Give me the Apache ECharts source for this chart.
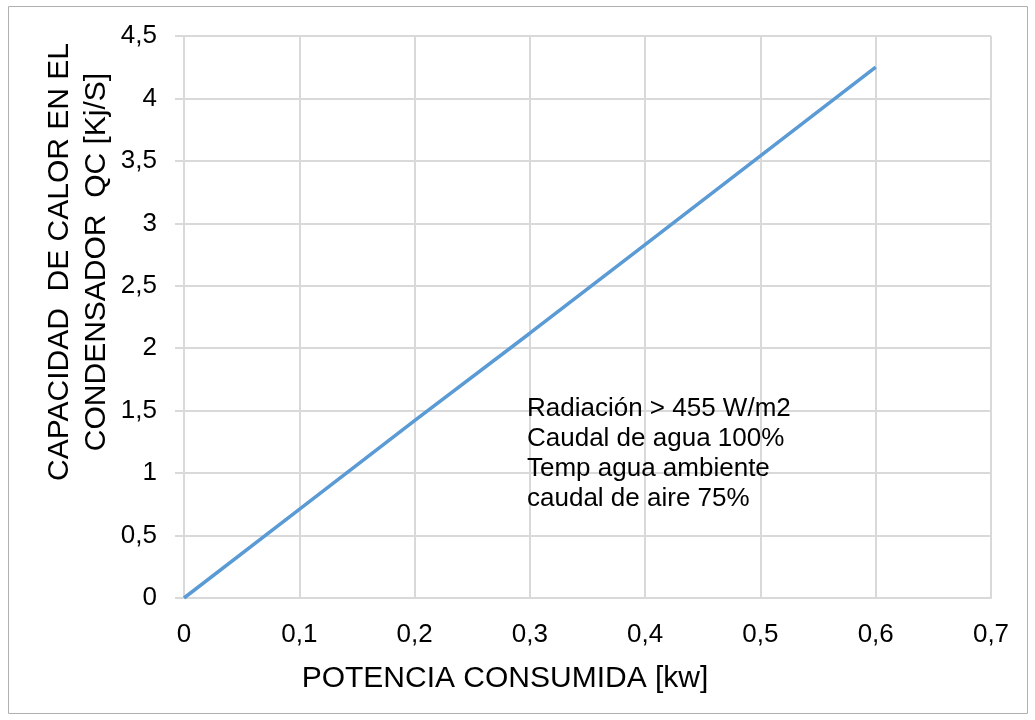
<!DOCTYPE html>
<html>
<head>
<meta charset="utf-8">
<script src="https://cdn.jsdelivr.net/npm/echarts@6/dist/echarts.min.js"></script>
<style>
  html, body { margin: 0; padding: 0; background: #ffffff; }
  #chart { width: 1035px; height: 720px; }
</style>
</head>
<body>
<div id="chart"></div>
<script>
// Potencia consumida [kw] vs. capacidad de calor en el condensador [Kj/S]
const potencia = [0, 0.1, 0.2, 0.3, 0.4, 0.5, 0.6];
const capacidad = [0, 0.71, 1.42, 2.12, 2.83, 3.54, 4.25];

const xTitle = 'POTENCIA CONSUMIDA [kw]';
const yTitleLines = ['CAPACIDAD  DE CALOR EN EL', 'CONDENSADOR  QC [Kj/S]'];
const notes = ['Radiación > 455 W/m2', 'Caudal de agua 100%', 'Temp agua ambiente', 'caudal de aire 75%'];

const font = 'Liberation Sans, Arial, sans-serif';
const comma = v => String(Math.round(v * 10) / 10).replace('.', ',');

const chart = echarts.init(document.getElementById('chart'), null, { renderer: 'canvas' });

chart.setOption({
  backgroundColor: '#ffffff',
  animation: false,
  grid: { left: 184, right: 44, top: 36, bottom: 122, containLabel: false },
  xAxis: {
    type: 'value',
    min: 0, max: 0.7, interval: 0.1,
    axisLine: { show: true, lineStyle: { color: '#d9d9d9', width: 2 } },
    axisTick: { show: false },
    splitLine: { show: true, lineStyle: { color: '#d9d9d9', width: 2 } },
    axisLabel: { color: '#000', fontSize: 26, fontFamily: font, margin: 24, formatter: comma }
  },
  yAxis: {
    type: 'value',
    min: 0, max: 4.5, interval: 0.5,
    axisLine: { show: true, lineStyle: { color: '#d9d9d9', width: 2 } },
    axisTick: { show: true, length: 9, lineStyle: { color: '#d9d9d9', width: 2 } },
    splitLine: { show: true, lineStyle: { color: '#d9d9d9', width: 2 } },
    axisLabel: { color: '#000', fontSize: 26, fontFamily: font, margin: 27, formatter: comma }
  },
  series: [{
    type: 'line',
    data: potencia.map((x, i) => [x, capacidad[i]]),
    showSymbol: false,
    lineStyle: { color: '#5b9bd5', width: 3.5 },
    z: 5
  }],
  graphic: [
    {
      type: 'rect',
      shape: { x: 8.5, y: 6.5, width: 1019, height: 707 },
      style: { fill: 'none', stroke: '#b0b0b0', lineWidth: 1 },
      silent: true
    },
    {
      type: 'text',
      x: 505, y: 679,
      style: { text: xTitle, fill: '#000', font: '30px ' + font, textAlign: 'center', textVerticalAlign: 'middle' }
    },
    {
      type: 'text',
      x: 60, y: 262, rotation: Math.PI / 2,
      style: { text: yTitleLines[0], fill: '#000', font: '30px ' + font, textAlign: 'center', textVerticalAlign: 'middle' }
    },
    {
      type: 'text',
      x: 97, y: 262, rotation: Math.PI / 2,
      style: { text: yTitleLines[1], fill: '#000', font: '30px ' + font, textAlign: 'center', textVerticalAlign: 'middle' }
    },
    {
      type: 'text',
      x: 527, y: 394, z: 10,
      style: { text: notes.join('\n'), fill: '#000', font: '26px ' + font, lineHeight: 30, textAlign: 'left', textVerticalAlign: 'top' }
    }
  ]
});
</script>
</body>
</html>
